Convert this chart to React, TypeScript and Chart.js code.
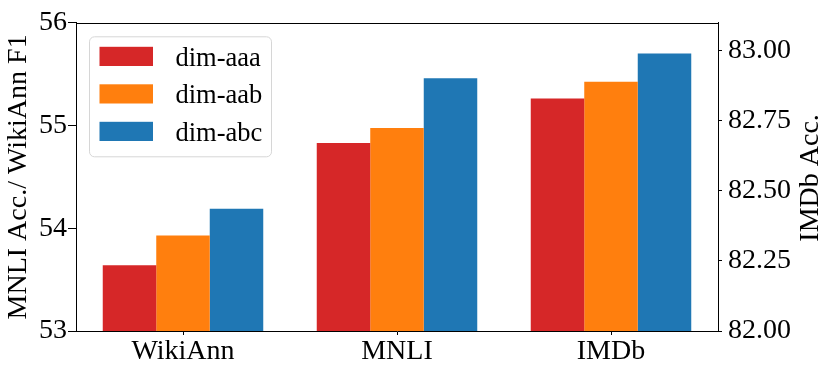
import React, { useEffect, useRef } from "react";
import { Chart, registerables } from "chart.js";

Chart.register(...registerables);

const categories = ["WikiAnn", "MNLI", "IMDb"];
const seriesLabels = ["dim-aaa", "dim-aab", "dim-abc"];
const seriesColors = ["#d62728", "#ff7f0e", "#1f77b4"];
const dimAaa = [53.64, 54.83, 82.83];
const dimAab = [53.93, 54.975, 82.89];
const dimAbc = [54.19, 55.46, 82.99];
const rightAxisCategories = ["IMDb"];
const leftTicks = [53, 54, 55, 56];
const rightTicks = [82.0, 82.25, 82.5, 82.75, 83.0];
const leftTitle = "MNLI Acc./ WikiAnn F1";
const rightTitle = "IMDb Acc.";

const FONT = '"Liberation Serif", "Times New Roman", serif';
const FS = 28;
const LEGEND_FS = 26.5;

export default function App() {
  const ref = useRef<HTMLCanvasElement | null>(null);

  useEffect(() => {
    document.body.style.margin = "0";
    const canvas = ref.current;
    if (!canvas) return;
    const allSeries = [dimAaa, dimAab, dimAbc];
    const isRight = (c: string) => rightAxisCategories.includes(c);
    const leftSets = allSeries.map((vals, i) => ({
      label: seriesLabels[i],
      data: vals.map((v, j) => (isRight(categories[j]) ? null : v)),
      backgroundColor: seriesColors[i],
      borderWidth: 0,
      yAxisID: "y",
      skipNull: true,
      categoryPercentage: 0.75,
      barPercentage: 1.0,
    }));
    const rightSets = allSeries.map((vals, i) => ({
      label: seriesLabels[i] + " (right)",
      data: vals.map((v, j) => (isRight(categories[j]) ? v : null)),
      backgroundColor: seriesColors[i],
      borderWidth: 0,
      yAxisID: "y1",
      skipNull: true,
      categoryPercentage: 0.75,
      barPercentage: 1.0,
    }));

    const overlay = {
      id: "overlay",
      afterDraw(chart: any) {
        const { ctx, chartArea } = chart;
        ctx.save();
        // top spine
        ctx.strokeStyle = "#000";
        ctx.lineWidth = 1;
        ctx.beginPath();
        ctx.moveTo(chartArea.left, Math.round(chartArea.top) + 0.5);
        ctx.lineTo(chartArea.right, Math.round(chartArea.top) + 0.5);
        ctx.stroke();

        // legend
        const lx = chartArea.left + 13.5;
        const ly = chartArea.top + 14;
        const lw = 182;
        const lh = 120;
        const r = 5;
        ctx.beginPath();
        ctx.moveTo(lx + r, ly);
        ctx.lineTo(lx + lw - r, ly);
        ctx.arcTo(lx + lw, ly, lx + lw, ly + r, r);
        ctx.lineTo(lx + lw, ly + lh - r);
        ctx.arcTo(lx + lw, ly + lh, lx + lw - r, ly + lh, r);
        ctx.lineTo(lx + r, ly + lh);
        ctx.arcTo(lx, ly + lh, lx, ly + lh - r, r);
        ctx.lineTo(lx, ly + r);
        ctx.arcTo(lx, ly, lx + r, ly, r);
        ctx.closePath();
        ctx.fillStyle = "rgba(255,255,255,0.8)";
        ctx.fill();
        ctx.strokeStyle = "#d6d6d6";
        ctx.stroke();

        ctx.font = `${LEGEND_FS}px ${FONT}`;
        ctx.textAlign = "left";
        ctx.textBaseline = "alphabetic";
        for (let i = 0; i < seriesLabels.length; i++) {
          const by = ly + 10 + i * 37.5;
          ctx.fillStyle = seriesColors[i];
          ctx.fillRect(lx + 10, by, 53.5, 19.2);
          ctx.fillStyle = "#000";
          ctx.fillText(seriesLabels[i], lx + 86, by + 18.8);
        }

        // right axis title (bottom-to-top)
        ctx.font = `${FS}px ${FONT}`;
        ctx.translate(818, (chartArea.top + chartArea.bottom) / 2 + 1);
        ctx.rotate(-Math.PI / 2);
        ctx.textAlign = "center";
        ctx.textBaseline = "alphabetic";
        ctx.fillStyle = "#000";
        ctx.fillText(rightTitle, 0, 0);
        ctx.restore();
      },
    };

    const chart = new Chart(canvas, {
      type: "bar",
      data: { labels: categories, datasets: [...leftSets, ...rightSets] as any },
      options: {
        animation: false,
        responsive: false,
        devicePixelRatio: 1,
        layout: { padding: { top: 18, left: 0, right: 0, bottom: 0 } },
        plugins: { legend: { display: false }, tooltip: { enabled: false } },
        scales: {
          x: {
            type: "category",
            offset: true,
            grid: {
              display: true,
              drawOnChartArea: false,
              drawTicks: true,
              tickLength: 4,
              tickColor: "#000",
              offset: false,
            },
            border: { display: true, color: "#000", width: 1 },
            ticks: { color: "#000", font: { family: FONT, size: FS }, padding: 0, maxRotation: 0 },
            afterFit: (s: any) => {
              s.height = 43;
            },
          },
          y: {
            type: "linear",
            position: "left",
            min: 53,
            max: 56,
            grid: {
              display: true,
              drawOnChartArea: false,
              drawTicks: true,
              tickLength: 8,
              tickColor: "#000",
            },
            border: { display: true, color: "#000", width: 1 },
            ticks: {
              color: "#000",
              font: { family: FONT, size: FS },
              padding: 1,
              callback: (v: any) => String(v),
            },
            afterBuildTicks: (s: any) => {
              s.ticks = leftTicks.map((v) => ({ value: v }));
            },
            title: {
              display: true,
              text: leftTitle,
              color: "#000",
              font: { family: FONT, size: FS },
              padding: { top: 2, bottom: 0 },
            },
            afterFit: (s: any) => {
              s.width = 76;
            },
          },
          y1: {
            type: "linear",
            position: "right",
            min: 82,
            max: 83.1,
            grid: {
              display: true,
              drawOnChartArea: false,
              drawTicks: true,
              tickLength: 4,
              tickColor: "#000",
            },
            border: { display: true, color: "#000", width: 1 },
            ticks: {
              color: "#000",
              font: { family: FONT, size: FS },
              padding: 6,
              callback: (v: any) => Number(v).toFixed(2),
            },
            afterBuildTicks: (s: any) => {
              s.ticks = rightTicks.map((v) => ({ value: v }));
            },
            afterFit: (s: any) => {
              s.width = 113;
            },
          },
        },
      },
      plugins: [overlay],
    });
    return () => chart.destroy();
  }, []);

  return (
    <div style={{ width: 831, height: 374, background: "#fff" }}>
      <canvas ref={ref} width={831} height={374} style={{ display: "block" }} />
    </div>
  );
}
